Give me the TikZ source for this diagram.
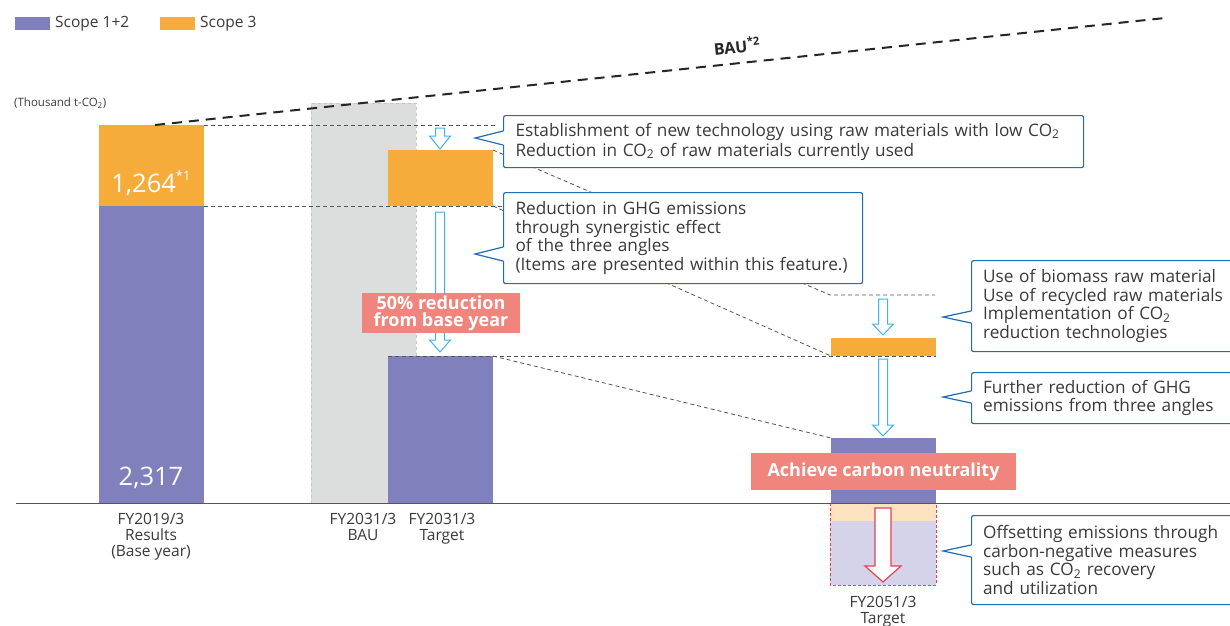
\documentclass[tikz,border=0pt]{standalone}
\usepackage{fontspec}
\setmainfont{Open Sans}
\usetikzlibrary{calc}
\definecolor{scpurple}{HTML}{8080BC}
\definecolor{scorange}{HTML}{F5AC3B}
\definecolor{bagray}{HTML}{DCDDDD}
\definecolor{bagrayline}{HTML}{C4C5C5}
\definecolor{pinklab}{HTML}{F0857D}
\definecolor{cblue}{HTML}{1F6DB5}
\definecolor{ablue}{HTML}{3DB5EA}
\definecolor{txt}{HTML}{3A3A3A}
\definecolor{guidegray}{HTML}{555555}
\definecolor{redarr}{HTML}{E8404F}
\definecolor{lorange}{HTML}{FDE3C0}
\definecolor{llav}{HTML}{D4D3EA}
\newcommand\COtwo{CO\textsubscript{2}}
\newcommand\harrow[7]{%
  \draw[#1] (#2-#5,#3) -- (#2-#5,#4-#7) -- (#2-#6,#4-#7) -- (#2,#4) -- (#2+#6,#4-#7) -- (#2+#5,#4-#7) -- (#2+#5,#3) -- cycle;}
\newcommand\callptr[4]{%
  \fill[white] (#1+2,#3-#4) -- (#2,#3) -- (#1+2,#3+#4) -- cycle;
  \draw[cblue, line width=1.2pt, line join=miter] (#1,#3-#4) -- (#2,#3) -- (#1,#3+#4);}
\tikzset{
  bar/.style={rectangle, inner sep=0pt, outer sep=0pt, anchor=north west},
  guide/.style={draw=guidegray, line width=0.8pt, dash pattern=on 4pt off 3pt},
  barrow/.style={draw=ablue, fill=white, line width=1pt, line join=miter},
  rarrow/.style={draw=redarr, fill=white, line width=1.2pt, line join=miter},
  callout/.style={rectangle, draw=cblue, fill=white, line width=1.2pt, rounded corners=2pt,
    anchor=north west, align=left, text=txt, inner xsep=11pt, inner ysep=0pt,
    font=\fontsize{17.2}{18.5}\selectfont},
  pinkbox/.style={rectangle, fill=pinklab, text=white, inner sep=0pt, align=center,
    font=\bfseries\fontsize{18}{17}\selectfont},
  axlabel/.style={align=center, text=txt, anchor=north, inner sep=0pt,
    font=\fontsize{15.5}{16}\selectfont},
  legtext/.style={anchor=west, text=txt, inner sep=0pt, font=\fontsize{15.5}{16}\selectfont},
  bignum/.style={text=white, inner sep=0pt, font=\fontsize{25.5}{28}\selectfont}
}
\begin{document}
\begin{tikzpicture}[x=1pt,y=-1pt]
\useasboundingbox[fill=white] (0,0) rectangle (1230,625);
% legend
\node[bar, fill=scpurple, minimum width=35pt, minimum height=13pt] (lg1) at (15,17) {};
\node[legtext] (lg1t) at (55,24) {Scope 1+2};
\node[bar, fill=scorange, minimum width=35pt, minimum height=13pt] (lg2) at (160,17) {};
\node[legtext] (lg2t) at (200,24) {Scope 3};
\node[anchor=west, text=txt, inner sep=0pt, font=\fontsize{11.5}{13}\selectfont] (unit) at (14,103) {(Thousand t-\COtwo)};
% BAU gray bar
\node[bar, fill=bagray, draw=bagrayline, dashed, line width=0.8pt, minimum width=105pt, minimum height=400pt] (bau) at (311,103) {};
% bars
\node[bar, fill=scorange, minimum width=105pt, minimum height=81pt] (b1o) at (99,125) {};
\node[bar, fill=scpurple, minimum width=105pt, minimum height=297pt] (b1p) at (99,206) {};
\node[bar, fill=scorange, minimum width=105pt, minimum height=56pt] (b2o) at (388,150) {};
\node[bar, fill=scpurple, minimum width=105pt, minimum height=147pt] (b2p) at (388,356) {};
\node[bar, fill=scorange, minimum width=105pt, minimum height=18pt] (b3o) at (831,338) {};
\node[bar, fill=scpurple, minimum width=105pt, minimum height=65pt] (b3p) at (831,438) {};
% offset box
\node[bar, fill=lorange, minimum width=106pt, minimum height=18pt] (offo) at (830,503) {};
\node[bar, fill=llav, minimum width=106pt, minimum height=64pt] (offp) at (830,521) {};
\draw[redarr, line width=0.9pt, dash pattern=on 3pt off 2pt] (offo.north west) rectangle (offp.south east);
% numbers
\node[bignum] (n1) at (151,183) {1,264\raisebox{0.45em}{\fontsize{13}{13}\selectfont *1}};
\node[bignum] (n2) at (151,478) {2,317};
% axis
\coordinate (axL) at (16,503);
\coordinate (axR) at (1230,503);
\draw[guidegray, line width=1pt] (axL) -- (axR);
% BAU line
\coordinate (bauS) at (155,125);
\coordinate (bauE) at (1165,18);
\draw[black!85, line width=2pt, dash pattern=on 10pt off 7pt] (bauS) -- (bauE);
\node[rotate=6, text=black!85, inner sep=0pt, font=\bfseries\fontsize{16}{18}\selectfont] (baulab) at (737,46) {BAU\textsuperscript{*2}};
% guide lines
\coordinate (g1) at (495,125);
\coordinate (g2) at (502,206);
\coordinate (g3) at (830,295);
\coordinate (g4) at (935,295);
\draw[guide] (b1o.north east) -- (g1);
\draw[guide] (b1o.south east) -- (g2);
\draw[guide] (b2o.north east) -- (g3) -- (g4);
\draw[guide] (b2o.south east) -- (b3o.south west);
\draw[guide] (b2p.north west) -- (b3o.south east);
\draw[guide] (b2p.north east) -- (b3p.north west);
% blue arrows
\harrow{barrow}{440}{128}{149}{4.5}{10.5}{13}
\harrow{barrow}{440}{212}{352}{4.5}{10.5}{12}
\harrow{barrow}{883}{299}{335}{4.5}{10.5}{11}
\harrow{barrow}{883}{359}{436}{4.5}{10.5}{11}
\harrow{rarrow}{883}{508}{582}{8}{18}{16}
% pink labels
\node[pinkbox, minimum width=158pt, minimum height=40pt] (p1) at (441,313) {50\% reduction\\from base year};
\node[pinkbox, minimum width=265pt, minimum height=37pt] (p2) at (883.5,471.5) {Achieve carbon neutrality};
% callouts
\node[callout, minimum width=580pt, minimum height=52pt, text width=556pt, font=\fontsize{17.2}{20}\selectfont] (c1) at (503,115)
  {Establishment of new technology using raw materials with low \COtwo\\Reduction in \COtwo\ of raw materials currently used};
\callptr{503}{475}{138}{7}
\node[callout, minimum width=359pt, minimum height=91pt, text width=335pt] (c2) at (503,192)
  {Reduction in GHG emissions\\through synergistic effect\\of the three angles\\(Items are presented within this feature.)};
\callptr{503}{475}{254}{7}
\node[callout, minimum width=275pt, minimum height=91pt, text width=252pt] (c3) at (971,260)
  {Use of biomass raw material\\Use of recycled raw materials\\Implementation of \COtwo\\reduction technologies};
\callptr{971}{943}{317}{6}
\node[callout, minimum width=275pt, minimum height=51pt, text width=252pt] (c4) at (971,372)
  {Further reduction of GHG\\emissions from three angles};
\callptr{971}{943}{397}{6}
\node[callout, minimum width=275pt, minimum height=89pt, text width=252pt] (c5) at (971,515)
  {Offsetting emissions through\\carbon-negative measures\\such as \COtwo\ recovery\\and utilization};
\callptr{971}{943}{551}{6}
% axis labels
\node[axlabel] (x1) at (151,513) {FY2019/3\\Results\\(Base year)};
\node[axlabel] (x2) at (363,513) {FY2031/3\\BAU};
\node[axlabel] (x3) at (442,513) {FY2031/3\\Target};
\node[axlabel] (x4) at (883,596) {FY2051/3\\Target};
\end{tikzpicture}
\end{document}
